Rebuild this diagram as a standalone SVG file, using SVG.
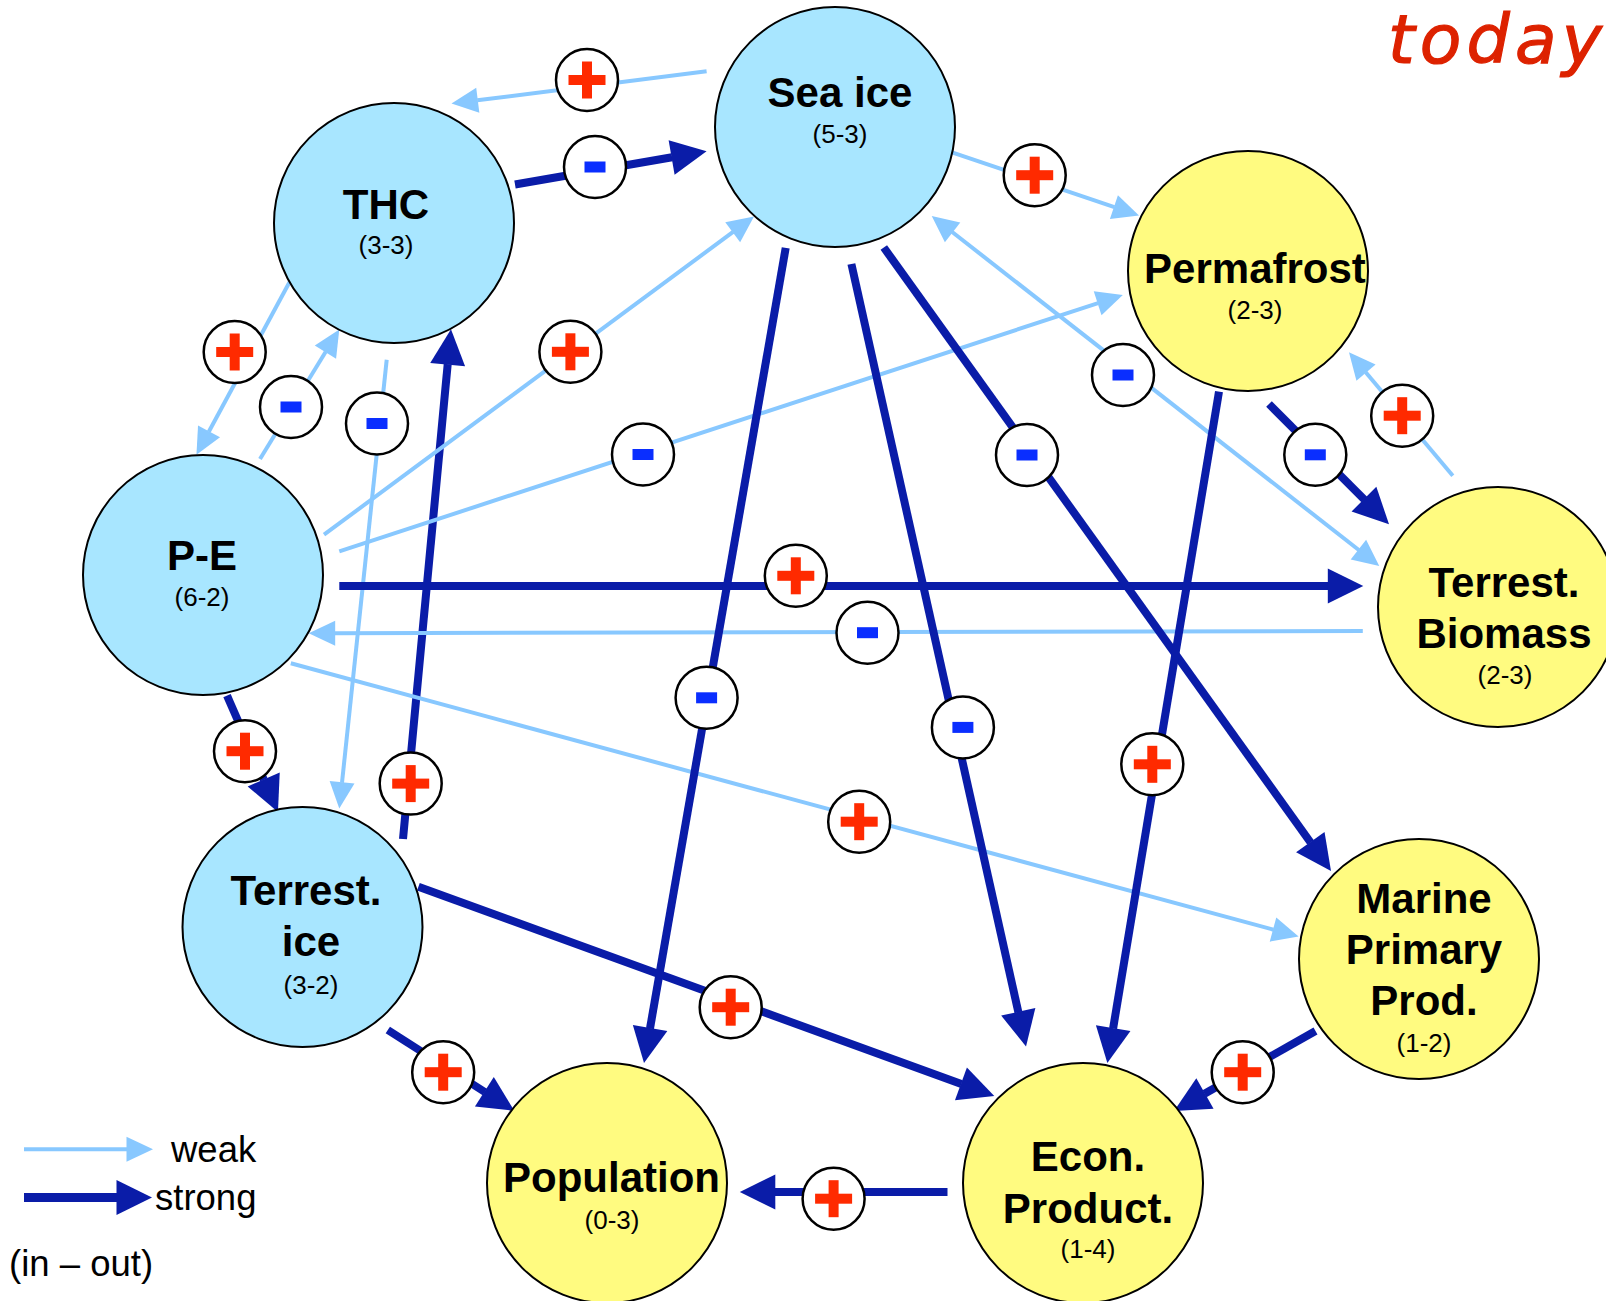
<svg xmlns="http://www.w3.org/2000/svg" xmlns:xlink="http://www.w3.org/1999/xlink" width="1606" height="1301" viewBox="0 0 1606 1301">
<style>
.nb{fill:#a8e6ff;stroke:#000;stroke-width:2}
.ny{fill:#fffb80;stroke:#000;stroke-width:2}
.t{font-family:"Liberation Sans",Arial,sans-serif;font-weight:bold;font-size:42px;fill:#000;text-anchor:middle}
.s{font-family:"Liberation Sans",Arial,sans-serif;font-size:26px;fill:#000;text-anchor:middle}
.lg{font-family:"Liberation Sans",Arial,sans-serif;font-size:36.5px;fill:#000}
.w{stroke:#88c8ff;stroke-width:4;fill:none;marker-end:url(#aw)}
.st{stroke:#0a1ca8;stroke-width:8;fill:none;marker-end:url(#as)}
</style>
<defs>
<marker id="aw" markerUnits="userSpaceOnUse" markerWidth="27" markerHeight="25" refX="0.5" refY="12.5" orient="auto-start-reverse" overflow="visible"><path d="M0,0 L26.5,12.5 L0,25 z" fill="#88c8ff"/></marker>
<marker id="as" markerUnits="userSpaceOnUse" markerWidth="36" markerHeight="35" refX="0.5" refY="17.5" orient="auto" overflow="visible"><path d="M0,0 L35.5,17.5 L0,35 z" fill="#0a1ca8"/></marker>
<g id="plus"><circle r="31" fill="#fff" stroke="#000" stroke-width="2.5"/><rect x="-18.5" y="-5" width="37" height="10" fill="#ff2a00"/><rect x="-5" y="-18.5" width="10" height="37" fill="#ff2a00"/></g>
<g id="minus"><circle r="31" fill="#fff" stroke="#000" stroke-width="2.5"/><rect x="-10.5" y="-5.5" width="21" height="11" fill="#0a2eff"/></g>
</defs>
<rect width="1606" height="1301" fill="#fff"/>

<g id="connectors">
<line class="w" x1="706.6" y1="71.3" x2="477.3" y2="100.3"/>
<line class="st" x1="515" y1="184.5" x2="672.1" y2="157.3"/>
<line class="w" x1="290.8" y1="279.8" x2="208.8" y2="431.8"/>
<line class="w" x1="260" y1="459" x2="325.7" y2="351.7"/>
<line class="w" x1="386.7" y1="359.8" x2="342" y2="782.7"/>
<line class="st" x1="403" y1="839" x2="447.7" y2="364.1"/>
<line class="w" x1="324" y1="534.7" x2="733.1" y2="231.9"/>
<line class="w" x1="339.3" y1="551.3" x2="1098.1" y2="303.1"/>
<line class="st" x1="339.3" y1="586" x2="1328.3" y2="586"/>
<line class="w" x1="1362.8" y1="631" x2="334.7" y2="633.2"/>
<line class="w" x1="290.8" y1="663.3" x2="1273.5" y2="929.7"/>
<line class="st" x1="227" y1="695.7" x2="263.9" y2="779.9"/>
<line class="w" x1="949" y1="151.3" x2="1114.4" y2="207.2"/>
<line class="w" x1="952.2" y1="232" x2="1358.8" y2="550" marker-start="url(#aw)"/>
<line class="st" x1="785.7" y1="247.9" x2="650" y2="1028.5"/>
<line class="st" x1="851.4" y1="264" x2="1018.4" y2="1012.3"/>
<line class="st" x1="883.8" y1="247.5" x2="1310.6" y2="842.5"/>
<line class="st" x1="1219" y1="391.7" x2="1113.1" y2="1028.5"/>
<line class="st" x1="1269" y1="404" x2="1364.3" y2="499.5"/>
<line class="w" x1="1452.8" y1="475.8" x2="1365.7" y2="372.2"/>
<line class="st" x1="418.4" y1="886.7" x2="961.4" y2="1084"/>
<line class="st" x1="387.8" y1="1030" x2="484.8" y2="1092"/>
<line class="st" x1="1315.5" y1="1031" x2="1204.5" y2="1093.8"/>
<line class="st" x1="947.5" y1="1192" x2="774.8" y2="1192"/>

<use xlink:href="#plus" x="587" y="80"/>
<use xlink:href="#minus" x="595" y="167"/>
<use xlink:href="#plus" x="234.7" y="352"/>
<use xlink:href="#minus" x="291" y="407"/>
<use xlink:href="#minus" x="377" y="423.5"/>
<use xlink:href="#plus" x="410.7" y="783.6"/>
<use xlink:href="#plus" x="570.4" y="351.8"/>
<use xlink:href="#minus" x="643" y="454.5"/>
<use xlink:href="#plus" x="795.8" y="575.8"/>
<use xlink:href="#minus" x="867.5" y="632.7"/>
<use xlink:href="#plus" x="859.2" y="821.7"/>
<use xlink:href="#plus" x="245" y="751.2"/>
<use xlink:href="#plus" x="1034.7" y="175.2"/>
<use xlink:href="#minus" x="1123" y="375"/>
<use xlink:href="#minus" x="706.6" y="697.8"/>
<use xlink:href="#minus" x="962.9" y="727.4"/>
<use xlink:href="#minus" x="1027" y="455"/>
<use xlink:href="#plus" x="1152.3" y="764.3"/>
<use xlink:href="#minus" x="1315.3" y="454.8"/>
<use xlink:href="#plus" x="1402.2" y="415.7"/>
<use xlink:href="#plus" x="730.7" y="1007.2"/>
<use xlink:href="#plus" x="443.2" y="1072.2"/>
<use xlink:href="#plus" x="1242.7" y="1072.2"/>
<use xlink:href="#plus" x="833.6" y="1198.7"/>
</g>

<g id="node-thc"><circle class="nb" cx="394" cy="223" r="120"/><text class="t" x="386" y="219">THC</text><text class="s" x="386" y="254">(3-3)</text></g>
<g id="node-seaice"><circle class="nb" cx="835" cy="127" r="120"/><text class="t" x="840" y="107">Sea ice</text><text class="s" x="840" y="143">(5-3)</text></g>
<g id="node-pe"><circle class="nb" cx="203" cy="575" r="120"/><text class="t" x="202" y="570">P-E</text><text class="s" x="202" y="606">(6-2)</text></g>
<g id="node-permafrost"><circle class="ny" cx="1248" cy="271" r="120"/><text class="t" x="1255" y="283">Permafrost</text><text class="s" x="1255" y="319">(2-3)</text></g>
<g id="node-biomass"><circle class="ny" cx="1498" cy="607" r="120"/><text class="t" x="1504" y="597">Terrest.</text><text class="t" x="1504" y="648">Biomass</text><text class="s" x="1505" y="684">(2-3)</text></g>
<g id="node-marine"><circle class="ny" cx="1419" cy="959" r="120"/><text class="t" x="1424" y="913">Marine</text><text class="t" x="1424" y="964">Primary</text><text class="t" x="1424" y="1015">Prod.</text><text class="s" x="1424" y="1052">(1-2)</text></g>
<g id="node-econ"><circle class="ny" cx="1083" cy="1183" r="120"/><text class="t" x="1088" y="1171">Econ.</text><text class="t" x="1088" y="1223">Product.</text><text class="s" x="1088" y="1258">(1-4)</text></g>
<g id="node-population"><circle class="ny" cx="607" cy="1183" r="120"/><text class="t" x="611.5" y="1192">Population</text><text class="s" x="612" y="1229">(0-3)</text></g>
<g id="node-terrice"><circle class="nb" cx="302.5" cy="927" r="120"/><text class="t" x="306" y="905">Terrest.</text><text class="t" x="311" y="956">ice</text><text class="s" x="311" y="994">(3-2)</text></g>

<g id="legend">
<line x1="24" y1="1149.3" x2="127" y2="1149.3" stroke="#88c8ff" stroke-width="4" marker-end="url(#aw)"/>
<line x1="24" y1="1197.5" x2="117" y2="1197.5" stroke="#0a1ca8" stroke-width="9" marker-end="url(#as)"/>
<text class="lg" x="171" y="1162">weak</text>
<text class="lg" x="155" y="1210">strong</text>
<text class="lg" x="9" y="1276">(in – out)</text>
</g>
<text id="title" x="1388" y="63" font-family="DejaVu Sans, sans-serif" font-style="italic" font-size="68" fill="#dd2200" stroke="#dd2200" stroke-width="1.2" textLength="214" lengthAdjust="spacing">today</text>
</svg>
